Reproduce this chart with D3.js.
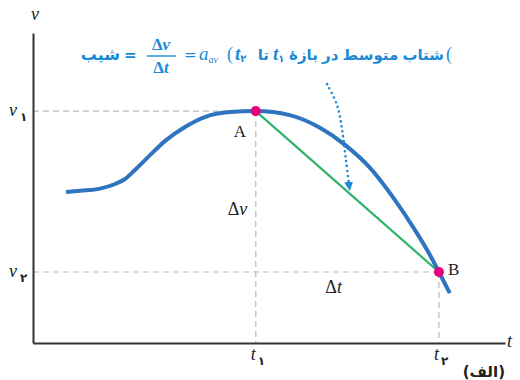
<!DOCTYPE html>
<html>
<head>
<meta charset="utf-8">
<script src="https://cdn.jsdelivr.net/npm/d3@7"></script>
<style>
  body { margin: 0; background: #fff; }
  svg { display: block; }
</style>
</head>
<body>
<script>
// curve v(t)
const curveT = [0.70, 1.00, 1.42, 1.74, 1.95, 2.16, 2.48, 2.80, 3.22, 3.64, 4.17, 4.72, 5.44, 6.08, 6.61, 7.14, 7.67, 8.09, 8.41, 8.60, 8.83]
const curveV = [4.87, 4.91, 4.98, 5.13, 5.29, 5.58, 6.06, 6.52, 6.97, 7.29, 7.45, 7.48, 7.35, 6.94, 6.39, 5.65, 4.61, 3.65, 2.84, 2.29, 1.61]

// the two points A and B
const pointNames = ["A", "B"]
const pointT = [4.72, 8.60]
const pointV = [7.48, 2.29]
const subDigits = ["۱", "۲"]

// dotted arrow path
const arrowT = [6.23, 6.44, 6.55, 6.63, 6.70]
const arrowV = [8.35, 7.68, 6.87, 5.90, 5.05]

const width = 520, height = 380
const blue = "#2f74bf", textBlue = "#1b8ad6", green = "#2db36b", pink = "#e6007e"
const serif = "'Liberation Serif', 'DejaVu Serif', serif"
const fa = "'DejaVu Sans', sans-serif"

const x = d3.scaleLinear().domain([0, 10]).range([33, 505])
const y = d3.scaleLinear().domain([0, 10]).range([343, 33])

const svg = d3.select("body").append("svg")
  .attr("width", width).attr("height", height)

svg.append("defs").append("marker")
  .attr("id", "tri")
  .attr("viewBox", "0 0 10 10")
  .attr("refX", 5).attr("refY", 5)
  .attr("markerWidth", 9).attr("markerHeight", 9)
  .attr("markerUnits", "userSpaceOnUse")
  .attr("orient", "auto")
  .append("path").attr("d", "M0,0 L10,5 L0,10 Z").attr("fill", textBlue)

// guide lines
const dash = svg.append("g").attr("stroke", "#bbb").attr("stroke-width", 1.2).attr("stroke-dasharray", "6 4").attr("fill", "none")
pointT.forEach((t, i) => {
  dash.append("line").attr("x1", x(0)).attr("x2", x(t)).attr("y1", y(pointV[i])).attr("y2", y(pointV[i]))
  dash.append("line").attr("x1", x(t)).attr("x2", x(t)).attr("y1", y(pointV[i])).attr("y2", y(0))
})

// axes (plain lines, no ticks)
svg.append("g").attr("transform", `translate(0,${y(0)})`)
  .call(d3.axisBottom(x).tickValues([]).tickSizeOuter(0))
  .call(g => g.select(".domain").attr("stroke", "#333").attr("stroke-width", 2))
svg.append("g").attr("transform", `translate(${x(0)},0)`)
  .call(d3.axisLeft(y).tickValues([]).tickSizeOuter(0))
  .call(g => g.select(".domain").attr("stroke", "#333").attr("stroke-width", 2))

// chord A-B
svg.append("line")
  .attr("x1", x(pointT[0])).attr("y1", y(pointV[0]))
  .attr("x2", x(pointT[1])).attr("y2", y(pointV[1]))
  .attr("stroke", green).attr("stroke-width", 2.2)

// curve
const line = d3.line().x(d => x(d[0])).y(d => y(d[1])).curve(d3.curveMonotoneX)
svg.append("path")
  .datum(curveT.map((t, i) => [t, curveV[i]]))
  .attr("d", line)
  .attr("fill", "none").attr("stroke", blue).attr("stroke-width", 4)

// dotted arrow
svg.append("path")
  .datum(arrowT.map((t, i) => [t, arrowV[i]]))
  .attr("d", line.curve(d3.curveCatmullRom))
  .attr("fill", "none").attr("stroke", textBlue).attr("stroke-width", 2.6)
  .attr("stroke-linecap", "round").attr("stroke-dasharray", "0 5")
  .attr("marker-end", "url(#tri)")

// points
svg.selectAll(".pt").data(pointT).join("circle")
  .attr("cx", d => x(d)).attr("cy", (d, i) => y(pointV[i])).attr("r", 5)
  .attr("fill", pink)

svg.selectAll(".pname").data(pointNames).join("text")
  .attr("x", (d, i) => x(pointT[i]) + (i === 0 ? -22 : 9))
  .attr("y", (d, i) => y(pointV[i]) + (i === 0 ? 26 : 3))
  .attr("font-family", serif).attr("font-size", 17).attr("fill", "#222")
  .text(d => d)

// axis names
svg.append("text").attr("x", 31).attr("y", 20).attr("font-family", serif).attr("font-style", "italic")
  .attr("font-size", 18).attr("fill", "#222").text("v")
svg.append("text").attr("x", 507).attr("y", 347).attr("font-family", serif).attr("font-style", "italic")
  .attr("font-size", 18).attr("fill", "#222").text("t")

// v1, v2 labels
pointV.forEach((v, i) => {
  const g = svg.append("text").attr("x", 9).attr("y", y(v) + 5).attr("fill", "#222")
  g.append("tspan").attr("font-family", serif).attr("font-style", "italic").attr("font-size", 18).text("v")
  g.append("tspan").attr("font-family", fa).attr("font-size", 12).attr("font-weight", "bold").attr("dx", 3).attr("dy", 5).text(subDigits[i])
})

// t1, t2 labels
pointT.forEach((t, i) => {
  const g = svg.append("text").attr("x", x(t) - 5).attr("y", y(0) + 17).attr("fill", "#222")
  g.append("tspan").attr("font-family", serif).attr("font-style", "italic").attr("font-size", 18).text("t")
  g.append("tspan").attr("font-family", fa).attr("font-size", 12).attr("font-weight", "bold").attr("dx", 2).attr("dy", 5).text(subDigits[i])
})

// delta labels
svg.append("text").attr("x", x(pointT[0]) - 28).attr("y", (y(pointV[0]) + y(pointV[1])) / 2 + 23)
  .attr("font-family", serif).attr("font-size", 18).attr("fill", "#222")
  .call(t => { t.append("tspan").text("Δ"); t.append("tspan").attr("font-style", "italic").text("v") })
svg.append("text").attr("x", (x(pointT[0]) + x(pointT[1])) / 2 - 22).attr("y", y(pointV[1]) + 21)
  .attr("font-family", serif).attr("font-size", 18).attr("fill", "#222")
  .call(t => { t.append("tspan").text("Δ"); t.append("tspan").attr("font-style", "italic").text("t") })

svg.append("text").attr("x", 505).attr("y", 377).attr("text-anchor", "end")
  .attr("font-family", fa).attr("font-weight", "bold").attr("font-size", 15).attr("fill", "#222")
  .text("(الف)")

// title formula
const tb = svg.append("g").attr("fill", textBlue).attr("font-weight", "bold")
tb.append("text").attr("x", 120).attr("y", 60).attr("text-anchor", "end").attr("font-family", fa).attr("font-size", 16).text("شیب")
tb.append("text").attr("x", 124).attr("y", 60).attr("font-family", fa).attr("font-size", 15).text("=")
tb.append("text").attr("x", 161).attr("y", 50).attr("text-anchor", "middle").attr("font-family", serif).attr("font-size", 17)
  .call(t => { t.append("tspan").text("Δ"); t.append("tspan").attr("font-style", "italic").text("v") })
tb.append("line").attr("x1", 147).attr("x2", 176).attr("y1", 56).attr("y2", 56).attr("stroke", textBlue).attr("stroke-width", 1.4)
tb.append("text").attr("x", 161).attr("y", 73).attr("text-anchor", "middle").attr("font-family", serif).attr("font-size", 17)
  .call(t => { t.append("tspan").text("Δ"); t.append("tspan").attr("font-style", "italic").text("t") })
tb.append("text").attr("x", 184).attr("y", 60).attr("font-family", fa).attr("font-size", 15).attr("font-weight", "normal").text("=")
tb.append("text").attr("x", 199).attr("y", 60).attr("font-family", serif).attr("font-style", "italic").attr("font-weight", "normal").attr("font-size", 19)
  .call(t => { t.append("tspan").text("a"); t.append("tspan").attr("font-size", 10).attr("dy", 3).text("av") })
tb.append("text").attr("x", 227).attr("y", 60).attr("font-family", serif).attr("font-weight", "normal").attr("font-size", 18).text("(")
tb.append("text").attr("x", 235).attr("y", 60).attr("font-family", serif).attr("font-style", "italic").attr("font-size", 19)
  .call(t => { t.append("tspan").text("t"); t.append("tspan").attr("font-family", fa).attr("font-style", "normal").attr("font-size", 10).attr("dy", 2).text(subDigits[1]) })
tb.append("text").attr("x", 269).attr("y", 60).attr("text-anchor", "end").attr("font-family", fa).attr("font-size", 15).text("تا")
tb.append("text").attr("x", 273).attr("y", 60).attr("font-family", serif).attr("font-style", "italic").attr("font-size", 19)
  .call(t => { t.append("tspan").text("t"); t.append("tspan").attr("font-family", fa).attr("font-style", "normal").attr("font-size", 10).attr("dy", 2).text(subDigits[0]) })
tb.append("text").attr("x", 444).attr("y", 60).attr("text-anchor", "end").attr("font-family", fa).attr("font-size", 15).attr("word-spacing", -1).text("شتاب متوسط در بازهٔ")
tb.append("text").attr("x", 446).attr("y", 60).attr("font-family", serif).attr("font-weight", "normal").attr("font-size", 18).text("(")
</script>
</body>
</html>
